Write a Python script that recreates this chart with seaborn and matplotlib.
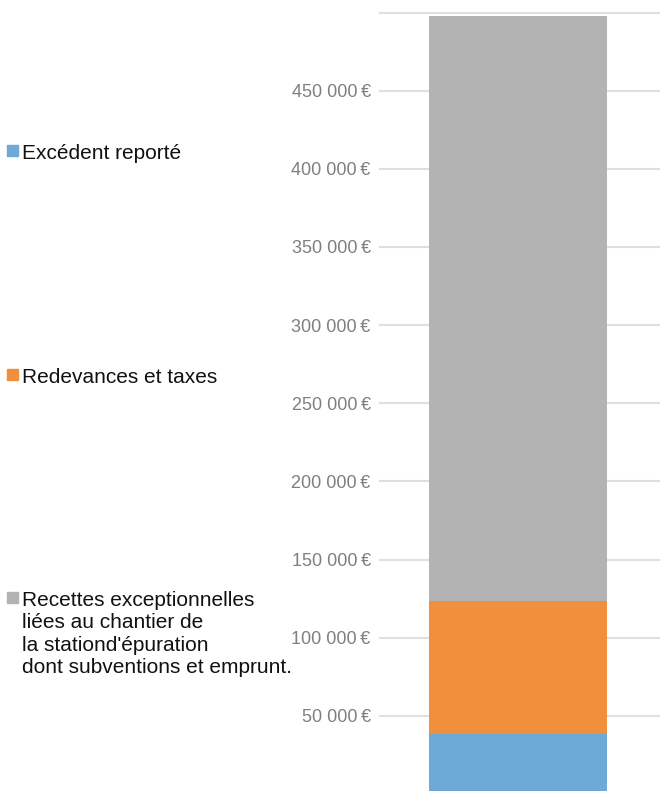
import pandas as pd
import matplotlib.pyplot as plt
import seaborn as sns
from matplotlib.patches import Rectangle

# values (euros), bottom to top of the stack
series = ["Excédent reporté", "Redevances et taxes",
          "Recettes exceptionnelles\nliées au chantier de\nla stationd'épuration\ndont subventions et emprunt."]
values = [38600, 84900, 374400]
colors = ["#6daad7", "#f0903d", "#b3b3b3"]
yticks = [50000, 100000, 150000, 200000, 250000, 300000, 350000, 400000, 450000, 500000]

sns.set_theme(style="white")
plt.rcParams['font.family'] = ['Liberation Sans', 'DejaVu Sans']

W, H = 660, 791
fig = plt.figure(figsize=(W / 100, H / 100), dpi=100)
ax = fig.add_axes([379 / W, 0, 1 - 379 / W, 1])

# stacked bar: draw cumulative totals, tallest first
cum = pd.Series(values).cumsum()
for i in reversed(range(len(values))):
    df = pd.DataFrame({"x": ["total"], "y": [cum[i]]})
    sns.barplot(data=df, x="x", y="y", color=colors[i], saturation=1,
                width=0.635, linewidth=0, ax=ax, zorder=3)

ax.set_xlim(-0.495, 0.505)
ax.set_ylim(1900, 508000)
ax.set_yticks(yticks)
ax.set_yticklabels([f"{v:,}".replace(",", " ") + "\u2009€" if v < 500000 else ""
                    for v in yticks], color="#7f7f7f", fontsize=13)
ax.yaxis.grid(True, color="#e0e0e0", linewidth=1.5, zorder=0)
ax.tick_params(axis="y", length=0, pad=6)
ax.set_xticks([])
ax.set_xlabel("")
ax.set_ylabel("")
for s in ax.spines.values():
    s.set_visible(False)

# legend, stacked down the left side
legend_y = [150, 374, 597]
for i, yy in zip(range(3), legend_y):
    fig.patches.append(Rectangle((7 / W, 1 - (yy + 5.5) / H), 11 / W, 11 / H,
                                 transform=fig.transFigure, color=colors[i]))
    fig.text(22 / W, 1 - (yy - 6) / H, series[i], fontsize=15, color="#111111",
             va="top", ha="left", linespacing=1.22)

fig.savefig("out.png", dpi=100)
